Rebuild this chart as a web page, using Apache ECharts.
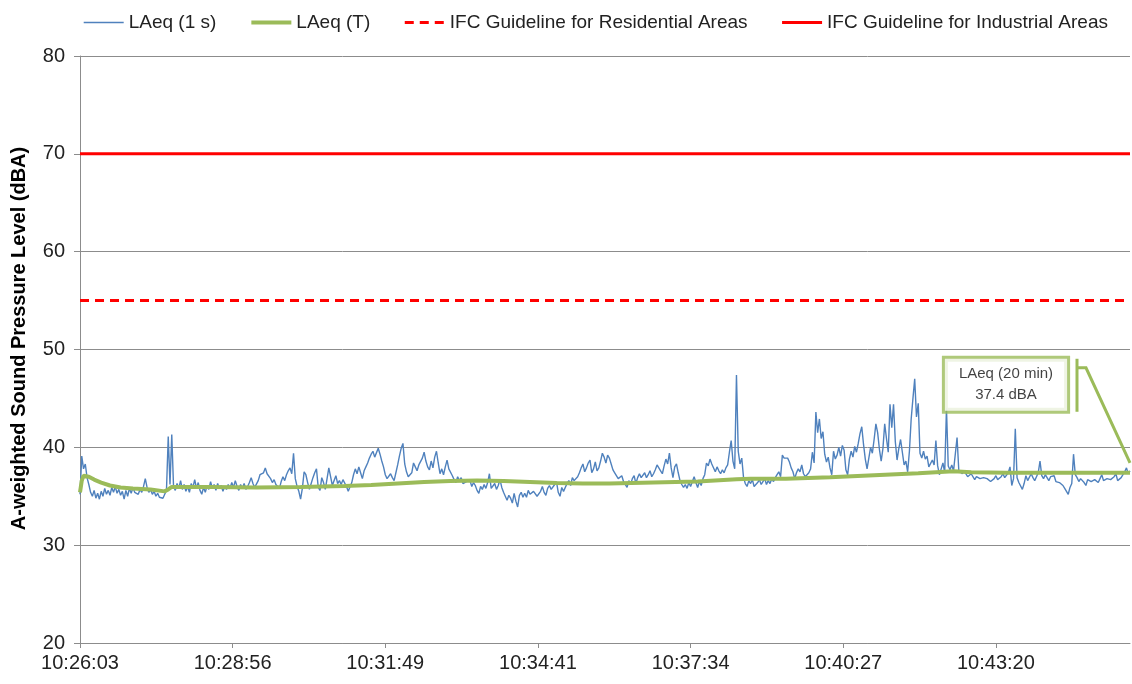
<!DOCTYPE html>
<html>
<head>
<meta charset="utf-8">
<title>Sound Pressure Level</title>
<script src="https://cdn.jsdelivr.net/npm/echarts@6/dist/echarts.min.js"></script>
<style>
  html, body { margin: 0; padding: 0; background: #fff; }
  #chart { width: 1132px; height: 684px; }
</style>
</head>
<body>
<div id="chart"></div>
<script>
// Time axis: seconds from the start of the measurement, labelled every 173 s
const tickStep = 173;
const tickLabels = ['10:26:03', '10:28:56', '10:31:49', '10:34:41', '10:37:34', '10:40:27', '10:43:20'];

// LAeq (1 s) readings, one value kept every 2 s (dBA)
const sampleStep = 2;
const laeq1s = [
  35.2,39.1,37.8,38.3,36.9,36.2,35.4,35.0,35.6,34.8,35.3,34.7,35.5,35.0,35.8,35.2,35.6,35.1,35.9,35.4,
  36.0,35.3,35.7,35.1,35.5,34.7,35.6,35.0,35.8,35.3,35.9,35.4,35.6,35.2,35.7,35.4,36.0,36.8,35.9,35.4,
  35.7,35.2,35.5,35.0,35.3,34.9,35.1,34.8,35.2,35.6,41.1,36.2,41.3,36.0,35.6,36.3,35.8,36.6,35.7,36.2,
  35.5,36.0,35.4,36.3,35.9,36.7,35.8,36.4,35.6,35.2,35.9,35.4,36.1,35.7,36.5,35.8,36.2,35.6,36.3,35.8,
  36.1,35.5,36.0,35.7,36.2,35.8,36.4,35.9,36.6,36.0,35.6,36.2,35.8,36.3,35.7,36.0,36.4,36.9,36.3,35.9,
  36.0,36.6,37.2,37.0,37.4,37.9,37.3,37.5,36.8,36.4,36.7,36.2,36.0,35.8,36.5,37.0,36.6,37.2,37.6,37.9,
  37.3,39.4,36.8,36.0,35.5,34.7,35.8,37.5,37.2,36.4,35.7,36.3,36.9,37.4,37.8,35.9,35.6,36.9,36.4,35.7,
  36.8,37.9,37.0,36.1,36.6,37.1,36.3,36.6,36.2,36.7,36.9,36.0,35.5,35.3,36.4,37.2,37.8,37.3,38.0,37.4,
  36.8,37.6,38.0,38.4,38.9,39.3,39.6,39.0,39.2,39.9,39.3,38.6,38.0,37.2,36.8,37.0,37.3,36.9,36.6,37.4,
  38.2,39.1,39.9,40.4,38.3,37.5,37.0,36.8,37.4,38.4,38.0,37.6,38.2,38.4,38.9,39.5,38.6,38.0,37.7,38.6,
  37.9,39.0,39.6,38.4,37.3,37.8,37.2,38.0,38.7,37.8,37.9,37.1,36.7,36.4,37.0,36.6,36.9,36.3,36.1,36.5,
  36.3,36.6,36.0,36.4,36.1,35.6,35.3,36.0,35.7,36.2,35.8,36.4,37.3,35.8,36.0,36.3,35.7,36.1,36.7,35.9,
  35.4,35.0,34.6,35.1,34.8,34.3,35.3,34.5,33.9,35.1,35.4,34.9,35.3,34.9,35.6,35.2,35.0,35.5,35.3,35.0,
  34.9,35.5,36.0,35.4,35.1,35.8,36.1,35.7,35.5,36.2,36.5,35.4,35.0,35.9,35.5,35.7,36.3,36.6,36.1,36.9,
  36.6,36.4,37.0,37.4,37.9,38.3,37.5,37.9,38.4,38.7,37.4,37.8,38.5,37.6,37.9,38.6,39.4,39.0,38.4,39.2,
  38.9,38.3,37.7,37.4,37.5,36.8,36.6,37.1,36.5,36.3,35.9,36.6,36.2,36.8,37.1,36.3,36.9,37.3,36.9,37.1,
  37.4,36.9,37.2,37.6,37.0,37.3,37.7,38.2,38.0,37.6,37.3,38.1,38.8,38.3,39.4,37.9,36.9,38.0,38.3,37.4,
  36.6,36.2,35.9,36.2,35.8,36.4,36.0,36.2,37.0,36.4,35.9,36.5,36.1,36.8,37.2,38.4,38.1,38.8,38.3,38.1,
  37.5,38.0,37.6,37.3,37.7,37.4,37.9,38.2,39.5,40.7,38.6,37.8,47.4,39.6,38.3,38.9,36.9,36.3,36.0,36.6,
  36.3,36.7,36.0,35.8,36.4,36.7,36.2,36.5,36.8,36.2,36.6,36.3,36.8,36.5,36.9,37.2,37.5,37.0,39.2,38.9,
  39.1,38.9,38.5,37.9,37.5,36.8,37.4,37.8,37.5,38.2,37.3,37.0,37.2,37.4,37.8,39.5,38.4,43.6,41.5,42.9,
  40.9,41.6,39.3,38.5,39.0,37.9,37.2,39.6,38.8,39.2,40.0,39.1,40.2,39.7,37.7,37.2,38.8,39.6,39.0,40.1,
  39.5,40.4,41.4,42.1,40.3,38.8,37.8,38.9,40.0,39.4,40.8,42.4,41.5,39.8,38.6,39.9,42.4,40.9,39.5,44.4,
  42.0,44.4,40.6,38.7,39.9,40.8,39.5,38.2,38.6,37.5,39.6,42.9,45.0,47.0,43.1,44.5,39.4,38.9,39.6,38.8,
  39.1,38.0,37.8,38.7,38.2,40.7,38.1,37.2,37.8,38.4,37.4,44.0,38.1,37.7,38.2,37.6,37.8,41.0,37.6,37.8,
  37.3,37.6,37.4,37.0,36.9,37.3,37.1,36.7,37.0,37.2,36.8,36.6,36.9,37.1,36.8,36.9,36.5,36.4,36.8,37.1,
  36.7,36.6,37.0,37.3,36.9,36.8,37.4,38.0,36.1,36.8,41.9,36.9,36.4,36.5,35.7,36.3,37.1,36.6,36.8,37.3,
  36.9,36.6,37.0,37.4,38.6,37.1,36.8,37.2,36.9,36.6,37.0,36.8,37.1,36.5,36.7,36.4,36.6,36.1,35.8,35.5,
  35.2,35.9,36.3,39.3,37.2,36.9,36.5,36.8,36.9,36.4,36.1,36.7,36.9,36.5,36.3,36.7,36.5,36.4,36.8,37.2,
  36.6,36.4,36.8,36.9,36.7,36.6,37.0,37.3,36.6,36.4,36.9,37.2,37.5,37.9,37.3,37.6
];

// Running LAeq (T): elapsed seconds and level (dBA)
const laeqTTimes = [0, 2, 4, 6, 10, 16, 24, 34, 46, 60, 80, 96, 100, 104, 150, 200, 250, 300, 330, 360,
  390, 420, 450, 480, 510, 540, 570, 600, 650, 700, 744, 760, 800, 850, 900, 950, 990, 1010, 1050, 1100, 1150, 1190];
const laeqTValues = [35.4, 36.6, 37.1, 37.2, 37.0, 36.7, 36.4, 36.1, 35.9, 35.8, 35.7, 35.5, 35.7, 35.95, 35.95, 35.9, 35.95, 36.05, 36.15, 36.3,
  36.45, 36.55, 36.6, 36.55, 36.45, 36.35, 36.3, 36.3, 36.4, 36.5, 36.75, 36.8, 36.8, 36.95, 37.15, 37.35, 37.55, 37.45, 37.4, 37.4, 37.4, 37.4];

// IFC noise guideline levels (dBA)
const residentialLimit = 55;
const industrialLimit = 70;

const seriesNames = ['LAeq (1 s)', 'LAeq (T)', 'IFC Guideline for Residential Areas', 'IFC Guideline for Industrial Areas'];

const endTime = (laeq1s.length - 1) * sampleStep;
const finalT = laeqTValues[laeqTValues.length - 1];
const finalTTime = laeqTTimes[laeqTTimes.length - 1];

const FONT = "'Liberation Sans', Arial, sans-serif";
const GRID_GRAY = '#8c8c8c';
const CALLOUT_GREEN = '#9BBB59';
const CLEAR = 'rgba(0,0,0,0)';

// Callout box offset from the final LAeq (T) point, in pixels
const calloutDx = -124;
const calloutDy = -88;

const chart = echarts.init(document.getElementById('chart'), null, { renderer: 'canvas' });

chart.setOption({
  animation: false,
  backgroundColor: '#fff',
  textStyle: { fontFamily: FONT },
  grid: { left: 80, right: 2, top: 56, bottom: 41, containLabel: false, outerBoundsMode: 'none' },
  legend: {
    top: 8,
    left: 78,
    itemWidth: 40,
    itemHeight: 14,
    itemGap: 33,
    itemStyle: { opacity: 0 },
    lineStyle: { width: 'inherit' },
    textStyle: { fontSize: 19, color: '#222', fontFamily: FONT },
    data: seriesNames
  },
  xAxis: {
    type: 'value',
    min: 0,
    max: endTime,
    interval: tickStep,
    axisLine: { show: true, onZero: false, lineStyle: { color: GRID_GRAY, width: 1 } },
    axisTick: { show: true, length: 5, lineStyle: { color: GRID_GRAY } },
    splitLine: { show: false },
    axisLabel: {
      fontSize: 20,
      color: '#222',
      fontFamily: FONT,
      margin: 10,
      showMaxLabel: false,
      formatter: function (v) {
        const k = v / tickStep;
        return (Number.isInteger(k) && tickLabels[k]) ? tickLabels[k] : '';
      }
    }
  },
  yAxis: {
    type: 'value',
    min: 20,
    max: 80,
    interval: 10,
    name: 'A-weighted Sound Pressure Level (dBA)',
    nameLocation: 'middle',
    nameRotate: 90,
    nameGap: 51,
    nameTextStyle: { fontSize: 20, fontWeight: 'bold', color: '#000', fontFamily: FONT, padding: [0, 0, 0, 22] },
    axisLine: { show: true, lineStyle: { color: GRID_GRAY, width: 1 } },
    axisTick: { show: true, length: 6, lineStyle: { color: GRID_GRAY } },
    splitLine: { show: true, lineStyle: { color: GRID_GRAY, width: 1 } },
    axisLabel: { fontSize: 20, color: '#222', fontFamily: FONT, margin: 15 }
  },
  series: [
    {
      name: seriesNames[0],
      type: 'line',
      showSymbol: false,
      symbol: 'none',
      data: laeq1s.map((v, i) => [i * sampleStep, v]),
      lineStyle: { color: '#4F81BD', width: 1.4 },
      itemStyle: { color: CLEAR },
      z: 2
    },
    {
      name: seriesNames[1],
      type: 'line',
      showSymbol: false,
      symbol: 'none',
      data: laeqTTimes.map((t, i) => [t, laeqTValues[i]]),
      lineStyle: { color: CALLOUT_GREEN, width: 4 },
      itemStyle: { color: CLEAR },
      z: 3
    },
    {
      name: seriesNames[2],
      type: 'line',
      showSymbol: false,
      symbol: 'none',
      data: [[0, residentialLimit], [endTime, residentialLimit]],
      lineStyle: { color: '#FF0000', width: 3, type: [9, 6] },
      itemStyle: { color: CLEAR },
      z: 3
    },
    {
      name: seriesNames[3],
      type: 'line',
      showSymbol: false,
      symbol: 'none',
      data: [[0, industrialLimit], [endTime, industrialLimit]],
      lineStyle: { color: '#FF0000', width: 3 },
      itemStyle: { color: CLEAR },
      z: 3
    },
    {
      // Callout giving the overall LAeq for the 20 minute period
      name: 'callout',
      type: 'scatter',
      symbolSize: 1,
      itemStyle: { color: CLEAR },
      data: [[finalTTime, finalT]],
      z: 5,
      label: {
        show: true,
        position: 'inside',
        formatter: function (p) { return 'LAeq (20 min)\n' + p.value[1].toFixed(1) + ' dBA'; },
        fontSize: 15,
        lineHeight: 21,
        color: '#111',
        fontFamily: FONT,
        backgroundColor: '#fff',
        borderColor: CALLOUT_GREEN,
        borderWidth: 3,
        padding: [5, 14],
        align: 'center'
      },
      labelLayout: { dx: calloutDx, dy: calloutDy }
    }
  ]
});

// Accent bar and leader line of the callout, placed from the final point's pixel position
const anchor = chart.convertToPixel({ gridIndex: 0 }, [finalTTime, finalT]);
const barX = anchor[0] + calloutDx + 71;
const boxTop = anchor[1] + calloutDy - 26;
const boxBottom = anchor[1] + calloutDy + 27;
chart.setOption({
  graphic: [
    {
      type: 'line',
      z: 10,
      shape: { x1: barX, y1: boxTop, x2: barX, y2: boxBottom },
      style: { stroke: CALLOUT_GREEN, lineWidth: 3 }
    },
    {
      type: 'polyline',
      z: 10,
      shape: { points: [[barX, boxTop + 9], [barX + 9, boxTop + 9], [anchor[0], anchor[1] - 10]] },
      style: { stroke: CALLOUT_GREEN, lineWidth: 3, fill: null }
    }
  ]
});
</script>
</body>
</html>
